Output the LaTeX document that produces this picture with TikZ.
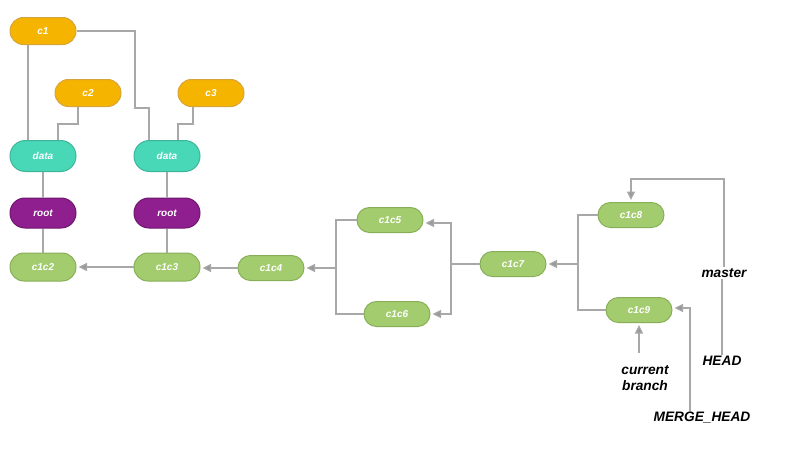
\documentclass[tikz,border=0pt]{standalone}
\usepackage{fontspec}
\setmainfont{Liberation Sans}
\usetikzlibrary{arrows.meta}
\definecolor{orf}{HTML}{F5B400}
\definecolor{ord}{HTML}{D6A43C}
\definecolor{tef}{HTML}{48D8B7}
\definecolor{ted}{HTML}{3CB59A}
\definecolor{puf}{HTML}{8F1E8F}
\definecolor{pud}{HTML}{6E166E}
\definecolor{grf}{HTML}{A3CC6E}
\definecolor{grd}{HTML}{88AE58}
\definecolor{ln}{HTML}{A8A8A8}
\definecolor{ar}{HTML}{9A9A9A}
\tikzset{
  pill/.style={minimum width=66pt, minimum height=#1, rounded corners=#1/2-0.1pt, line width=1pt, inner sep=0pt,
    text=white, font=\fontsize{10}{12}\selectfont\bfseries\itshape},
  obj/.style={pill=27pt, fill=orf, draw=ord},
  tree/.style={pill=31pt, fill=tef, draw=ted},
  rootn/.style={pill=30pt, fill=puf, draw=pud},
  com/.style={pill=28pt, fill=grf, draw=grd},
  comr/.style={pill=25pt, fill=grf, draw=grd},
  lbl/.style={font=\fontsize{13.7}{16.5}\selectfont\bfseries\itshape, align=center, inner sep=1pt},
  ln/.style={draw=ln, line width=1.1pt},
  arr/.style={ln, -{Triangle[length=8.5pt,width=8pt,fill=ar]}, shorten >=2pt},
}
\begin{document}
\begin{tikzpicture}[x=1pt,y=-1pt]
\useasboundingbox (0,0) rectangle (800,469);
% nodes
\node[obj] (c1) at (43,31) {c1};
\node[obj] (c2) at (88,93) {c2};
\node[obj] (c3) at (211,93) {c3};
\node[tree] (dataL) at (43,156) {data};
\node[tree] (dataR) at (167,156) {data};
\node[rootn] (rootL) at (43,213) {root};
\node[rootn] (rootR) at (167,213) {root};
\node[com] (c1c2) at (43,267) {c1c2};
\node[com] (c1c3) at (167,267) {c1c3};
\node[comr] (c1c4) at (271,268) {c1c4};
\node[comr] (c1c5) at (390,220) {c1c5};
\node[comr] (c1c6) at (397,314) {c1c6};
\node[comr] (c1c7) at (513,264) {c1c7};
\node[comr] (c1c8) at (631,215) {c1c8};
\node[comr] (c1c9) at (639,310) {c1c9};
\node[lbl] (master) at (724,273) {master};
\node[lbl] (HEAD) at (722,361) {HEAD};
\node[lbl] (cb) at (645,378) {current\\branch};
\node[lbl] (MH) at (702,418) {MERGE\_HEAD};
\coordinate (j1) at (336,268);
\coordinate (j2) at (451,264);
\coordinate (j3) at (578,264);
% tree connectors
\draw[ln] ([xshift=-15pt]c1.south) -- ([xshift=-15pt]dataL.north);
\draw[ln] (c1.east) -| ([xshift=-32pt,yshift=32pt]dataR.north) -| ([xshift=-18pt]dataR.north);
\draw[ln] ([xshift=-10pt]c2.south) |- ([xshift=15pt,yshift=16pt]dataL.north) -- ([xshift=15pt]dataL.north);
\draw[ln] ([xshift=-18pt]c3.south) |- ([xshift=11pt,yshift=16pt]dataR.north) -- ([xshift=11pt]dataR.north);
\draw[ln] (dataL) -- (rootL);
\draw[ln] (rootL) -- (c1c2);
\draw[ln] (dataR) -- (rootR);
\draw[ln] (rootR) -- (c1c3);
% history
\draw[arr] (c1c3.west) -- (c1c2.east);
\draw[arr] (c1c4.west) -- (c1c3.east |- c1c4.west);
\draw[ln] (c1c5.west) -| (j1) |- (c1c6.west);
\draw[arr] (j1) -- (c1c4.east);
\draw[ln] (c1c7.west) -- (j2);
\draw[arr] (j2) |- ([yshift=-3pt]c1c5.east);
\draw[arr] (j2) |- (c1c6.east);
\draw[ln] (c1c8.west) -| (j3) |- (c1c9.west);
\draw[arr] (j3) -- (c1c7.east);
% refs
\draw[ln] (HEAD.north) -- (HEAD.north |- master.south);
\draw[arr] (master.north) |- ([yshift=23pt]c1c8.north) -- (c1c8.north);
\draw[arr] ([yshift=11pt]cb.north -| c1c9.south) -- (c1c9.south);
\draw[arr] ([xshift=-12pt]MH.north) |- ([yshift=2pt]c1c9.east);
\end{tikzpicture}
\end{document}
